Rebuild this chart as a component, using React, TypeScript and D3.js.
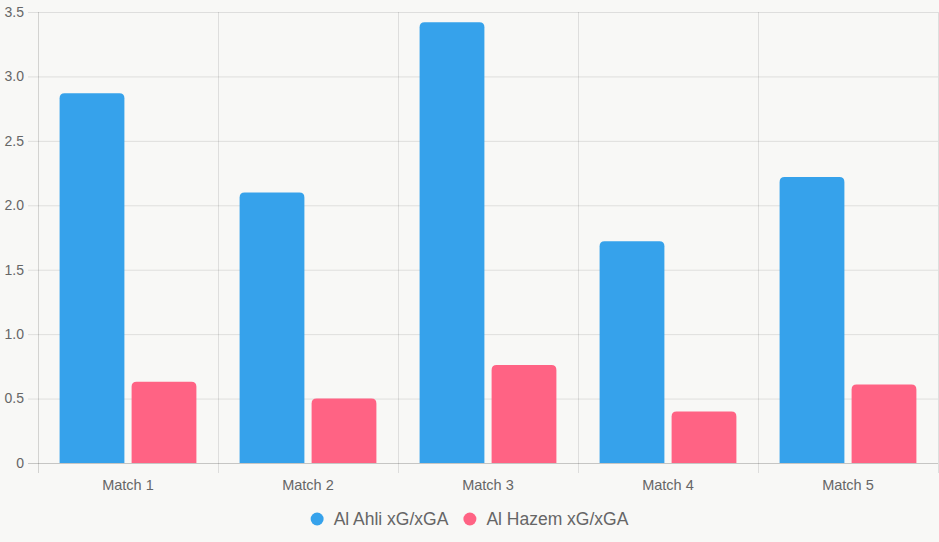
import React, { useEffect, useRef } from 'react';
import * as d3 from 'd3';

const matches = ['Match 1', 'Match 2', 'Match 3', 'Match 4', 'Match 5'];
const ahliXg = [2.87, 2.1, 3.42, 1.72, 2.22];
const hazemXg = [0.63, 0.5, 0.76, 0.4, 0.61];
const seriesNames = ['Al Ahli xG/xGA', 'Al Hazem xG/xGA'];
const seriesColors = ['#36a2eb', '#ff6384'];
const yTicks = [0, 0.5, 1, 1.5, 2, 2.5, 3, 3.5];

const W = 939;
const H = 542;
const FONT = "'Helvetica Neue', Helvetica, Arial, sans-serif";

export default function App() {
  const svgRef = useRef<SVGSVGElement | null>(null);

  useEffect(() => {
    const svg = d3.select(svgRef.current);
    svg.selectAll('*').remove();

    const left = 38, right = 938, top = 12, bottom = 463;

    svg.append('rect').attr('width', W).attr('height', H).attr('fill', '#f8f8f6');

    const x = d3.scaleBand<string>().domain(matches).range([left, right]).padding(0);
    const inner = d3.scaleBand<number>().domain([0, 1])
      .range([0, x.bandwidth() * 0.8]);
    const y = d3.scaleLinear().domain([0, 3.5]).range([bottom, top]);

    const grid = svg.append('g');
    // horizontal grid
    yTicks.forEach(t => {
      grid.append('line')
        .attr('x1', left - 10).attr('x2', right)
        .attr('y1', y(t) + 0.5).attr('y2', y(t) + 0.5)
        .attr('stroke', t === 0 ? 'rgba(0,0,0,0.2)' : 'rgba(0,0,0,0.1)');
      grid.append('text')
        .attr('x', left - 14).attr('y', y(t))
        .attr('dy', '0.35em')
        .attr('text-anchor', 'end')
        .attr('font-family', FONT).attr('font-size', 14).attr('fill', '#666')
        .text(t === 0 ? '0' : d3.format('.1f')(t));
    });
    // vertical grid at category boundaries
    const bounds = matches.map(m => x(m) as number).concat([right]);
    bounds.forEach((b, i) => {
      grid.append('line')
        .attr('x1', b + 0.5).attr('x2', b + 0.5)
        .attr('y1', top).attr('y2', bottom + 10)
        .attr('stroke', i === 0 ? 'rgba(0,0,0,0.15)' : 'rgba(0,0,0,0.1)');
    });

    const series = [ahliXg, hazemXg];
    const bw = inner.bandwidth() * 0.9;
    const r = 5;
    series.forEach((vals, si) => {
      vals.forEach((v, i) => {
        const x0 = (x(matches[i]) as number) + x.bandwidth() * 0.1 + (inner(si) as number) + inner.bandwidth() * 0.05;
        const y0 = y(v);
        const y1 = y(0);
        const path = `M${x0},${y1} L${x0},${y0 + r} Q${x0},${y0} ${x0 + r},${y0} L${x0 + bw - r},${y0} Q${x0 + bw},${y0} ${x0 + bw},${y0 + r} L${x0 + bw},${y1} Z`;
        svg.append('path').attr('d', path).attr('fill', seriesColors[si]);
      });
    });

    // x labels
    matches.forEach(m => {
      svg.append('text')
        .attr('x', (x(m) as number) + x.bandwidth() / 2).attr('y', 485)
        .attr('dy', '0.35em')
        .attr('text-anchor', 'middle')
        .attr('font-family', FONT).attr('font-size', 14.5).attr('fill', '#666')
        .text(m);
    });

    // legend
    const legend = svg.append('g');
    const fs = 17.5;
    const items: { w: number }[] = [];
    const tmp = svg.append('text').attr('font-family', FONT).attr('font-size', fs);
    seriesNames.forEach(n => {
      tmp.text(n);
      const tw = (tmp.node() as SVGTextElement).getComputedTextLength();
      items.push({ w: 13 + 10 + tw });
    });
    tmp.remove();
    const gap = 15;
    const total = d3.sum(items, d => d.w) + gap * (items.length - 1);
    let cx = W / 2 - total / 2;
    const ly = 519;
    seriesNames.forEach((n, i) => {
      legend.append('circle').attr('cx', cx + 6.5).attr('cy', ly).attr('r', 6.5).attr('fill', seriesColors[i]);
      legend.append('text')
        .attr('x', cx + 23).attr('y', ly).attr('dy', '0.35em')
        .attr('font-family', FONT).attr('font-size', fs).attr('fill', '#666')
        .text(n);
      cx += items[i].w + gap;
    });
  }, []);

  return (
    <div style={{ position: 'fixed', top: 0, left: 0, width: W, height: H }}>
      <svg ref={svgRef} width={W} height={H} style={{ display: 'block' }} />
    </div>
  );
}
